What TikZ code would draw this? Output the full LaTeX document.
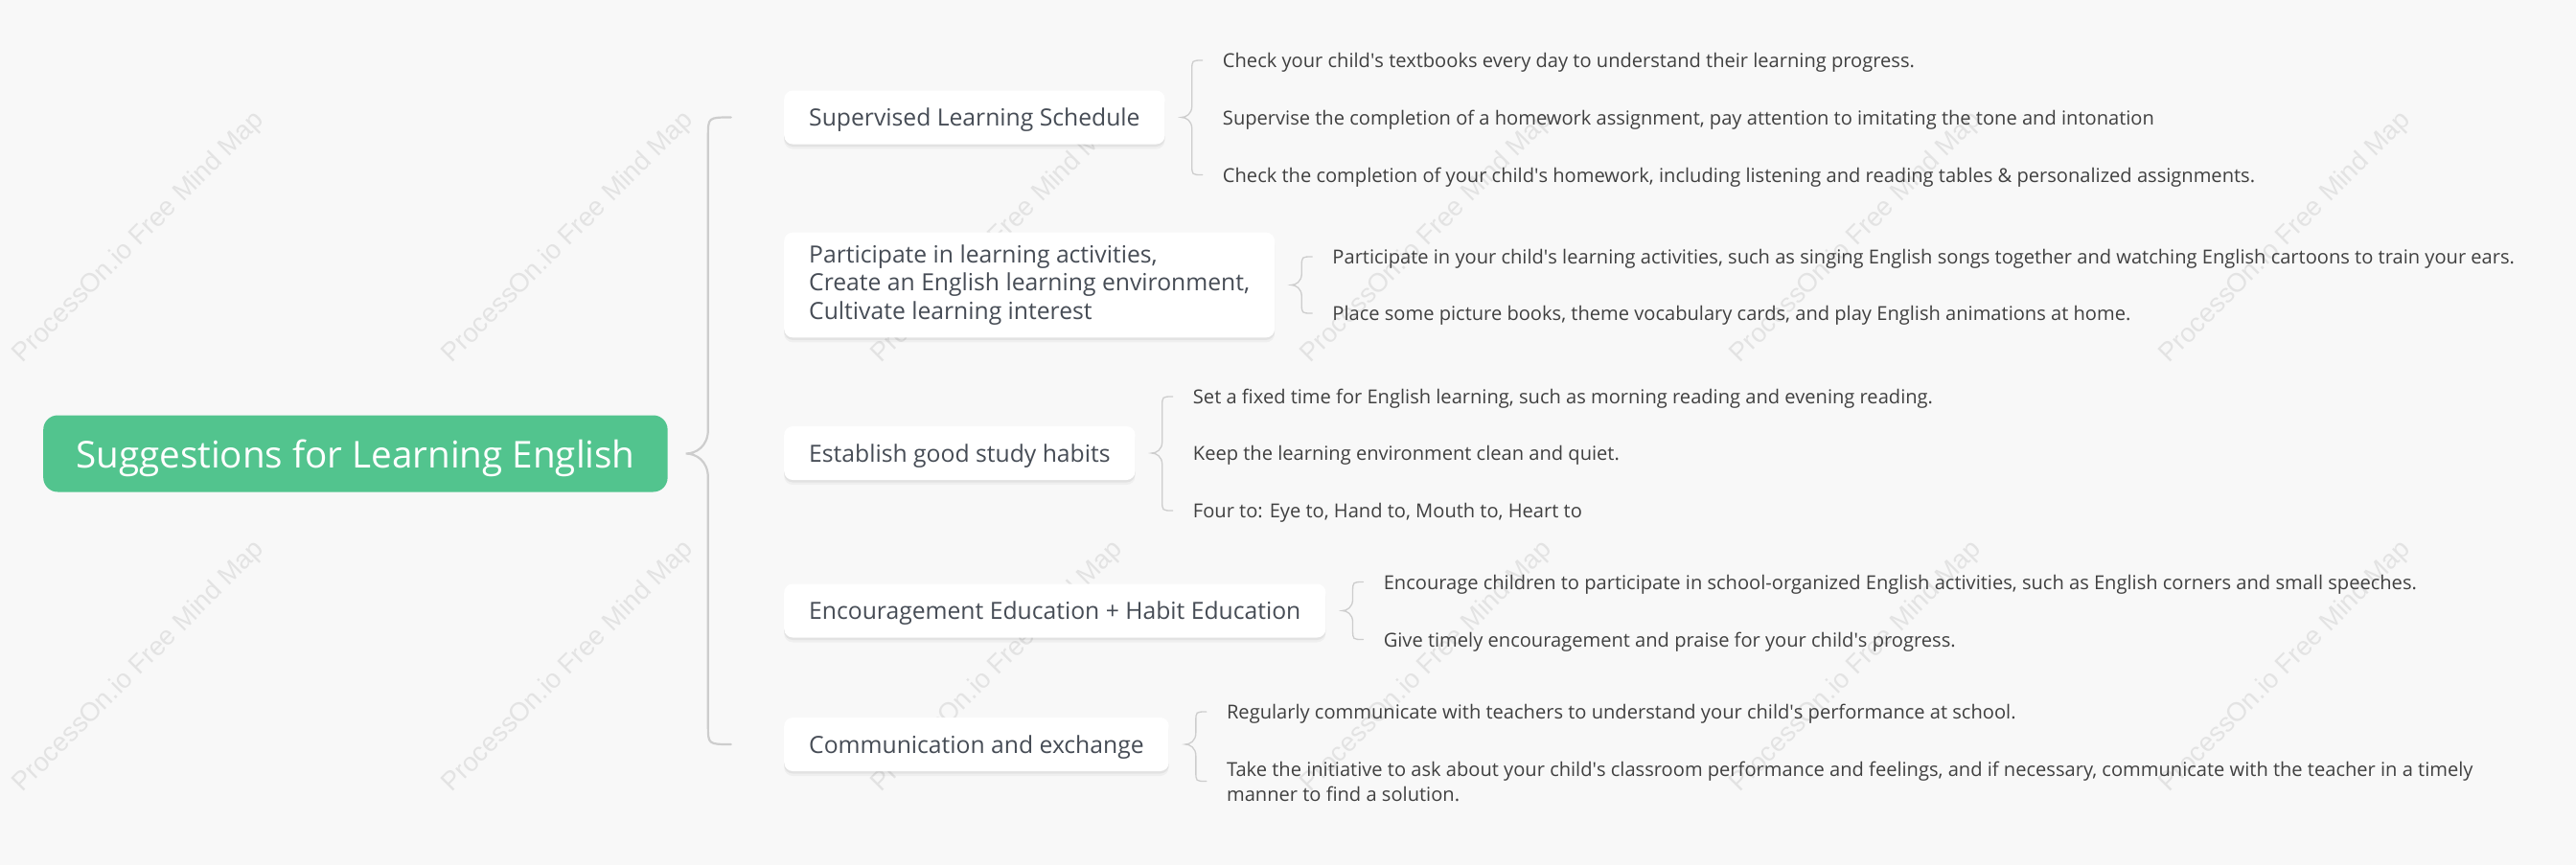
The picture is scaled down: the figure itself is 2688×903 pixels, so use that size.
\documentclass[tikz,border=0pt]{standalone}
\usepackage{fontspec}
\setmainfont{Open Sans}
\newfontfamily\wmfont{Liberation Sans}
\usetikzlibrary{calc,shadows}
\definecolor{bg}{HTML}{F8F8F8}
\definecolor{rootgreen}{HTML}{52C48E}
\definecolor{bracegray}{HTML}{CDCDCD}
\definecolor{wmgray}{HTML}{E3E3E3}
\definecolor{topictext}{HTML}{464C55}
\definecolor{leaftext}{HTML}{404040}
\tikzset{
  rootbox/.style={fill=rootgreen, text=white, rounded corners=15pt,
    font=\fontsize{38.6}{46}\selectfont, minimum height=80pt, inner xsep=34pt,
    text depth=0pt, anchor=west},
  topicbox/.style={fill=white, text=topictext, rounded corners=9pt,
    font=\fontsize{24.7}{29.5}\selectfont, inner xsep=26pt, inner ysep=13pt,
    minimum height=56pt, align=left, anchor=west,
    general shadow={fill=black, opacity=0.035, shadow xshift=0pt, shadow yshift=-5pt},
    drop shadow={fill=black, opacity=0.05, shadow xshift=0pt, shadow yshift=-2.5pt}},
  oneline/.style={text depth=0pt},
  leaf/.style={text=leaftext, font=\fontsize{20.1}{26}\selectfont, inner sep=0pt,
    anchor=west, align=left},
  mainbrace/.style={draw=bracegray, line width=2.2pt, line cap=round},
  subbrace/.style={draw=bracegray, line width=1.3pt, line cap=round},
  watermark/.style={text=wmgray, font=\wmfont\fontsize{27.5}{30}\selectfont, rotate=45, inner sep=0pt}
}
% #1 style, #2 tip, #3 top end ref, #4 bottom end ref, #5 line offset, #6 end offset, #7 end curl, #8 tip half height
\newcommand{\drawcurly}[8]{%
  \draw[#1] let \p0=(#2), \p1=(#3), \p2=(#4) in
    (\x0+#5pt+#6pt,\y1) .. controls (\x0+#5pt,\y1) .. (\x0+#5pt,\y1-#7pt)
    -- (\x0+#5pt,\y0+#8pt) .. controls (\x0+#5pt,\y0+0.3*#8pt) and (\x0+0.45*#5pt,\y0) .. (\x0,\y0)
    .. controls (\x0+0.45*#5pt,\y0) and (\x0+#5pt,\y0-0.3*#8pt) .. (\x0+#5pt,\y0-#8pt)
    -- (\x0+#5pt,\y2+#7pt) .. controls (\x0+#5pt,\y2) .. (\x0+#5pt+#6pt,\y2);
}
\newcommand{\ap}{\textquotesingle}
\begin{document}
\begin{tikzpicture}[x=1pt,y=-1pt]
\useasboundingbox (0,0) rectangle (2688,903);
\fill[bg] (0,0) rectangle (2688,903);
\foreach \i in {0,...,5} {
  \node[watermark] (wma\i) at (145+448*\i,248) {ProcessOn.io Free Mind Map};
  \node[watermark] (wmb\i) at (145+448*\i,696) {ProcessOn.io Free Mind Map};
}
% root
\node[rootbox] (root) at (45,473.5) {Suggestions for Learning English};
% topics
\node[topicbox,oneline] (t1) at (818,122.5) {Supervised Learning Schedule};
\node[topicbox] (t2) at (818,297.5) {Participate in learning activities,\\Create an English learning environment,\\Cultivate learning interest};
\node[topicbox,oneline] (t3) at (818,473) {Establish good study habits};
\node[topicbox,oneline] (t4) at (818,637.5) {Encouragement Education + Habit Education};
\node[topicbox,oneline] (t5) at (818,777) {Communication and exchange};
% leaves
\node[leaf,oneline] (l11) at ($(t1.east)+(60,-59.5)$) {Check your child\ap s textbooks every day to understand their learning progress.};
\node[leaf,oneline] (l12) at ($(t1.east)+(60,0)$) {Supervise the completion of a homework assignment, pay attention to imitating the tone and intonation};
\node[leaf,oneline] (l13) at ($(t1.east)+(60,60)$) {Check the completion of your child\ap s homework, including listening and reading tables \& personalized assignments.};
\node[leaf,oneline] (l21) at ($(t2.east)+(60,-29.5)$) {Participate in your child\ap s learning activities, such as singing English songs together and watching English cartoons to train your ears.};
\node[leaf,oneline] (l22) at ($(t2.east)+(60,29.5)$) {Place some picture books, theme vocabulary cards, and play English animations at home.};
\node[leaf,oneline] (l31) at ($(t3.east)+(60,-59)$) {Set a fixed time for English learning, such as morning reading and evening reading.};
\node[leaf,oneline] (l32) at ($(t3.east)+(60,0)$) {Keep the learning environment clean and quiet.};
\node[leaf,oneline] (l33) at ($(t3.east)+(60,60)$) {Four to: Eye to, Hand to, Mouth to, Heart to};
\node[leaf,oneline] (l41) at ($(t4.east)+(60,-30)$) {Encourage children to participate in school-organized English activities, such as English corners and small speeches.};
\node[leaf,oneline] (l42) at ($(t4.east)+(60,30)$) {Give timely encouragement and praise for your child\ap s progress.};
\node[leaf,oneline] (l51) at ($(t5.east)+(60,-34)$) {Regularly communicate with teachers to understand your child\ap s performance at school.};
\node[leaf,oneline] (l52) at ($(t5.east)+(60,38.5)$) {Take the initiative to ask about your child\ap s classroom performance and feelings, and if necessary, communicate with the teacher in a timely\\manner to find a solution.};
% brace tips
\coordinate (bm) at ($(root.east)+(19,0)$);
\coordinate (b1) at ($(t1.east)+(17,0)$);
\coordinate (b2) at ($(t2.east)+(17,0)$);
\coordinate (b3) at ($(t3.east)+(17,0)$);
\coordinate (b4) at ($(t4.east)+(17,0)$);
\coordinate (b5) at ($(t5.east)+(17,0)$);
% braces
\drawcurly{mainbrace}{bm}{t1.west}{t5.west}{23}{24}{20}{25}
\drawcurly{subbrace}{b1}{l11.west}{l13.west}{11}{11}{10}{12}
\drawcurly{subbrace}{b2}{l21.west}{l22.west}{11}{11}{10}{12}
\drawcurly{subbrace}{b3}{l31.west}{l33.west}{11}{11}{10}{12}
\drawcurly{subbrace}{b4}{l41.west}{l42.west}{11}{11}{10}{12}
\drawcurly{subbrace}{b5}{l51.west}{l52.west}{11}{11}{10}{12}
\end{tikzpicture}
\end{document}
